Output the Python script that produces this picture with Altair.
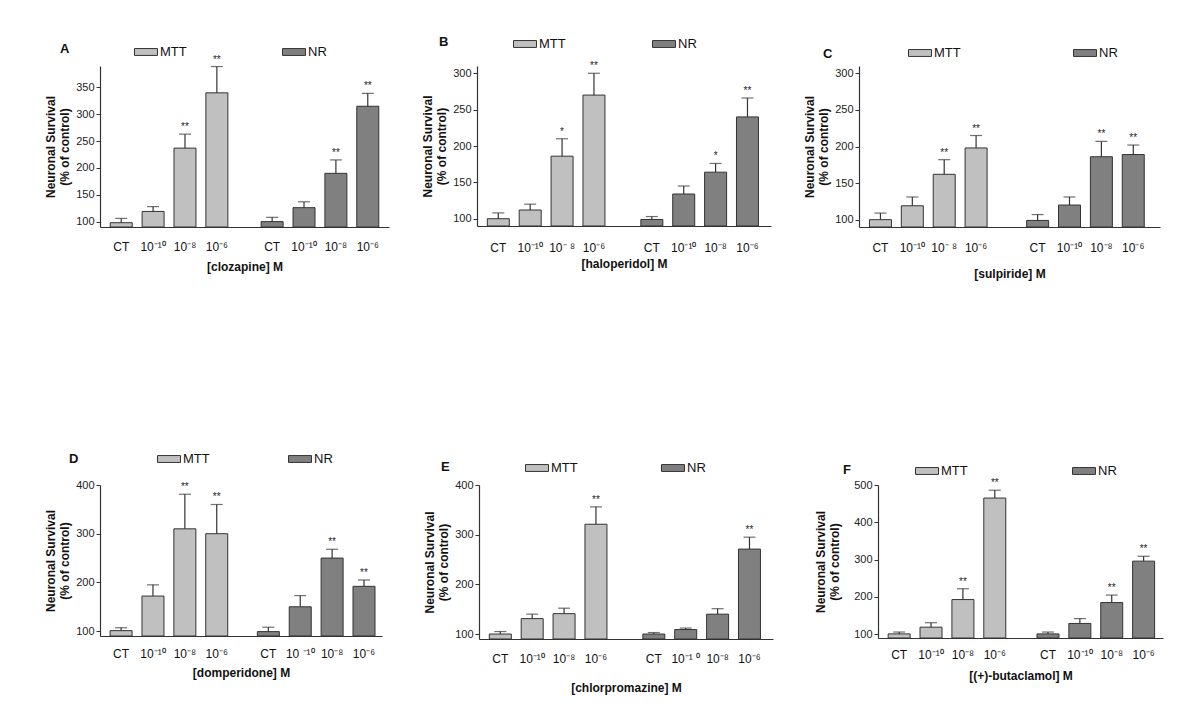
import altair as alt
import pandas as pd

ASSAYS = ["MTT", "NR"]
CONC = ["CT", "1e-10", "1e-8", "1e-6"]
LBL = ["CT", "10⁻¹⁰", "10⁻⁸", "10⁻⁶"]
COLORS = ["#c0c0c0", "#808080"]

# Panel A - clozapine
A_mtt = [98, 119, 237, 340]
A_mtt_err = [8, 9, 26, 49]
A_nr = [100, 126, 190, 315]
A_nr_err = [8, 11, 25, 24]
A_mtt_sig = ["", "", "**", "**"]
A_nr_sig = ["", "", "**", "**"]
A_mtt_lbl = LBL
A_nr_lbl = LBL

# Panel B - haloperidol
B_mtt = [100, 112, 186, 270]
B_mtt_err = [8, 8, 24, 30]
B_nr = [99, 134, 164, 240]
B_nr_err = [4, 11, 12, 26]
B_mtt_sig = ["", "", "*", "**"]
B_nr_sig = ["", "", "*", "**"]
B_mtt_lbl = ["CT", "10⁻¹⁰", "10⁻ ⁸", "10⁻⁶"]
B_nr_lbl = LBL

# Panel C - sulpiride
C_mtt = [100, 119, 162, 198]
C_mtt_err = [9, 12, 20, 17]
C_nr = [99, 120, 186, 189]
C_nr_err = [8, 11, 21, 13]
C_mtt_sig = ["", "", "**", "**"]
C_nr_sig = ["", "", "**", "**"]
C_mtt_lbl = ["CT", "10⁻¹⁰", "10⁻ ⁸", "10⁻⁶"]
C_nr_lbl = LBL

# Panel D - domperidone
D_mtt = [101, 172, 310, 300]
D_mtt_err = [6, 23, 71, 60]
D_nr = [99, 150, 250, 192]
D_nr_err = [9, 23, 18, 13]
D_mtt_sig = ["", "", "**", "**"]
D_nr_sig = ["", "", "**", "**"]
D_mtt_lbl = LBL
D_nr_lbl = ["CT", "10 ⁻¹⁰", "10⁻⁸", "10⁻⁶"]

# Panel E - chlorpromazine
E_mtt = [100, 131, 141, 321]
E_mtt_err = [5, 9, 11, 35]
E_nr = [100, 109, 140, 271]
E_nr_err = [3, 3, 11, 24]
E_mtt_sig = ["", "", "", "**"]
E_nr_sig = ["", "", "", "**"]
E_mtt_lbl = LBL
E_nr_lbl = ["CT", "10⁻¹ ⁰", "10⁻⁸", "10⁻⁶"]

# Panel F - (+)-butaclamol
F_mtt = [101, 119, 193, 465]
F_mtt_err = [5, 12, 29, 21]
F_nr = [101, 129, 185, 296]
F_nr_err = [5, 13, 20, 13]
F_mtt_sig = ["", "", "**", "**"]
F_nr_sig = ["", "", "**", "**"]
F_mtt_lbl = LBL
F_nr_lbl = LBL

FONT = "Liberation Sans"
INK = "#333333"


def panel(letter, xtitle, mtt, mtt_err, nr, nr_err, mtt_sig, nr_sig, mtt_lbl, nr_lbl,
          ydom, yticks, w, h, lx, ly, cp, xtp, ldx, ldy, ytp=4, lab_dy=20):
    rows = []
    for assay, vals, errs, sigs, lbls in [("MTT", mtt, mtt_err, mtt_sig, mtt_lbl),
                                          ("NR", nr, nr_err, nr_sig, nr_lbl)]:
        for c, v, e, s, l in zip(CONC, vals, errs, sigs, lbls):
            rows.append(dict(assay=assay, conc=c, value=v, top=v + e, sig=s, label=l))
    df = pd.DataFrame(rows)

    x = alt.X("assay:N",
              scale=alt.Scale(domain=ASSAYS, paddingInner=0.155, paddingOuter=0.035),
              axis=alt.Axis(labels=False, ticks=False, title=xtitle, titlePadding=xtp,
                            titleFont=FONT, titleFontSize=12, titleFontWeight="bold",
                            titleColor="#111", domainColor=INK, domainWidth=1.2))
    xo = alt.XOffset("conc:N",
                     scale=alt.Scale(domain=CONC, paddingInner=0.31, paddingOuter=0.155))
    ysc = alt.Scale(domain=ydom, nice=False, zero=False)
    yax = alt.Axis(values=yticks, title=["Neuronal Survival", "(% of control)"], grid=False,
                   labelFont=FONT, labelFontSize=11, labelColor="#222", labelPadding=2,
                   tickSize=4, tickColor=INK, domainColor=INK, domainWidth=1.2,
                   titleFont=FONT, titleFontSize=12, titleFontWeight="bold", titleColor="#111",
                   titlePadding=ytp, titleLineHeight=14)

    def Y(f):
        return alt.Y(f, scale=ysc, axis=yax)

    bars = alt.Chart().mark_bar(stroke=INK, strokeWidth=1).encode(
        x=x, xOffset=xo, y=Y("value:Q"), y2=alt.datum(ydom[0]),
        color=alt.Color("assay:N", scale=alt.Scale(domain=ASSAYS, range=COLORS),
                        legend=alt.Legend(orient="none", legendX=lx, legendY=ly,
                                          direction="horizontal", title=None,
                                          symbolType="M-1,-0.3H1V0.3H-1Z", symbolSize=529,
                                          symbolStrokeColor=INK, symbolStrokeWidth=1,
                                          symbolOpacity=1, labelFont=FONT, labelFontSize=13,
                                          labelColor="#111", labelOffset=2,
                                          columnPadding=cp, padding=0)))
    errs = alt.Chart().mark_rule(color=INK, strokeWidth=1.2).encode(
        x=x, xOffset=xo, y=Y("value:Q"), y2="top:Q")
    caps = alt.Chart().mark_tick(color=INK, size=12, thickness=1.2).encode(
        x=x, xOffset=xo, y=Y("top:Q"))
    stars = alt.Chart().mark_text(baseline="bottom", dy=-2, fontSize=10, font=FONT,
                                  color="#222").encode(
        x=x, xOffset=xo, y=Y("top:Q"), text="sig:N")
    labels = alt.Chart().mark_text(baseline="middle", fontSize=12, font=FONT,
                                   color="#111").encode(
        x=x, xOffset=xo, y=alt.value(h + lab_dy), text="label:N")

    return alt.layer(bars, errs, caps, stars, labels, data=df).properties(
        width=w, height=h,
        title=alt.TitleParams(letter, anchor="start", frame="group", dx=ldx, dy=ldy,
                              font=FONT, fontSize=13, fontWeight="bold", color="#111"))


pA = panel("A", "[clozapine] M", A_mtt, A_mtt_err, A_nr, A_nr_err, A_mtt_sig, A_nr_sig,
           A_mtt_lbl, A_nr_lbl, [90, 390], [100, 150, 200, 250, 300, 350],
           289, 161, 34, -26, 93, 34, -40, 20, lab_dy=20)
pB = panel("B", "[haloperidol] M", B_mtt, B_mtt_err, B_nr, B_nr_err, B_mtt_sig, B_nr_sig,
           B_mtt_lbl, B_nr_lbl, [90, 310], [100, 150, 200, 250, 300],
           294, 160, 36, -34, 84, 32, -38, 21, lab_dy=22)
pC = panel("C", "[sulpiride] M", C_mtt, C_mtt_err, C_nr, C_nr_err, C_mtt_sig, C_nr_sig,
           C_mtt_lbl, C_nr_lbl, [90, 310], [100, 150, 200, 250, 300],
           301, 161, 49, -25, 110, 41, -36, 24, lab_dy=21)
pD = panel("D", "[domperidone] M", D_mtt, D_mtt_err, D_nr, D_nr_err, D_mtt_sig, D_nr_sig,
           D_mtt_lbl, D_nr_lbl, [90, 400], [100, 200, 300, 400],
           282, 151, 57, -38, 76, 31, -31, 23, lab_dy=18)
pE = panel("E", "[chlorpromazine] M", E_mtt, E_mtt_err, E_nr, E_nr_err, E_mtt_sig, E_nr_sig,
           E_mtt_lbl, E_nr_lbl, [90, 400], [100, 200, 300, 400],
           294, 154, 46, -29, 81, 43, -38, 22, lab_dy=20)
pF = panel("F", "[(+)-butaclamol] M", F_mtt, F_mtt_err, F_nr, F_nr_err, F_mtt_sig, F_nr_sig,
           F_mtt_lbl, F_nr_lbl, [90, 500], [100, 200, 300, 400, 500],
           285, 153, 37, -26, 102, 32, -35, 22, ytp=12, lab_dy=17)

row1 = alt.hconcat(pA, pB, pC, spacing=32).resolve_scale(
    color="independent", x="independent", y="independent").resolve_legend(color="independent")
row2 = alt.hconcat(pD, pE, pF, spacing=41).resolve_scale(
    color="independent", x="independent", y="independent").resolve_legend(color="independent")

chart = alt.vconcat(row1, row2, spacing=168).resolve_scale(
    color="independent", x="independent", y="independent").resolve_legend(
    color="independent").properties(
    padding={"left": 36, "top": 24, "right": 5, "bottom": 5},
    background="white").configure_view(stroke=None)

chart.save("out.html", embed_options={"renderer": "svg", "actions": False})
